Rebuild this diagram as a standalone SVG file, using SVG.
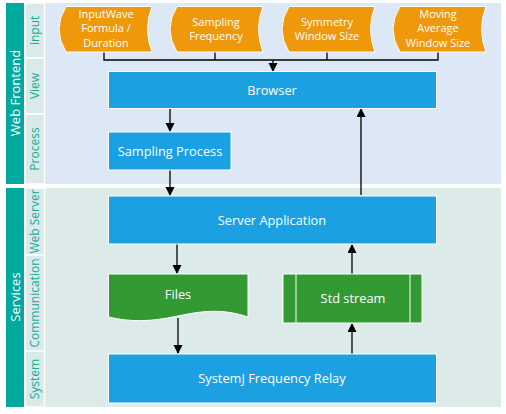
<svg xmlns="http://www.w3.org/2000/svg" width="506" height="414" viewBox="0 0 506 414">
<defs>
<style>
.t{font-family:"Open Sans","Noto Sans",sans-serif;fill:#fff;text-anchor:middle}
.m{font-size:12.8px}
.lane{font-family:"Open Sans","Noto Sans",sans-serif;fill:#17A89C;font-size:12px;text-anchor:middle}
.pool{font-family:"Open Sans","Noto Sans",sans-serif;fill:#fff;font-size:13px;text-anchor:middle}
.blue{fill:#1BA1E2;stroke:#fff;stroke-width:1}
.org{fill:#F0980C;stroke:#fff;stroke-width:1}
.grn{fill:#339933;stroke:#fff;stroke-width:1}
.c{stroke:#000;stroke-width:1.3;fill:none}
.lab{fill:#DAEAE8;stroke:#fff;stroke-width:1.5}
</style>
<marker id="ah" markerWidth="10" markerHeight="10" refX="8" refY="4.5" orient="auto" markerUnits="userSpaceOnUse">
<path d="M0,0 L9,4.5 L0,9 z" fill="#000"/>
</marker>
</defs>
<rect width="506" height="414" fill="#fff"/>
<g id="pool-web">
<rect x="45" y="3" width="456" height="181" fill="#DCE8F5"/>
<rect x="6" y="3" width="18" height="181" fill="#00A99D"/>
<text class="pool" transform="translate(19.5,93) rotate(-90)">Web Frontend</text>
<rect class="lab" x="25" y="3" width="19.5" height="55"/>
<rect class="lab" x="25" y="58" width="19.5" height="56"/>
<rect class="lab" x="25" y="114" width="19.5" height="70"/>
<text class="lane" transform="translate(39,30.5) rotate(-90)">Input</text>
<text class="lane" transform="translate(39,86) rotate(-90)">View</text>
<text class="lane" transform="translate(39,149) rotate(-90)">Process</text>
</g>
<g id="pool-services">
<rect x="45" y="188" width="456" height="219" fill="#DCEAEA"/>
<rect x="6" y="188" width="18" height="219" fill="#00A99D"/>
<text class="pool" transform="translate(19.5,297) rotate(-90)">Services</text>
<rect class="lab" x="25" y="188" width="19.5" height="67"/>
<rect class="lab" x="25" y="255" width="19.5" height="96"/>
<rect class="lab" x="25" y="351" width="19.5" height="56"/>
<text class="lane" transform="translate(39,221.5) rotate(-90)">Web Server</text>
<text class="lane" transform="translate(39,303) rotate(-90)">Communication</text>
<text class="lane" transform="translate(39,379) rotate(-90)">System</text>
</g>
<g id="connectors">
<path class="c" d="M104,52 V60 H438 V52 M215,52 V60 M327,52 V60"/>
<path class="c" d="M273,60 V71" marker-end="url(#ah)"/>
<path class="c" d="M170,108 V131" marker-end="url(#ah)"/>
<path class="c" d="M170,170 V195" marker-end="url(#ah)"/>
<path class="c" d="M361,195 V109" marker-end="url(#ah)"/>
<path class="c" d="M177,244 V273" marker-end="url(#ah)"/>
<path class="c" d="M178,318 V353" marker-end="url(#ah)"/>
<path class="c" d="M352,274 V245" marker-end="url(#ah)"/>
<path class="c" d="M352,354 V324" marker-end="url(#ah)"/>
</g>
<g id="n-input1">
<path class="org" d="M66,6.5 H152 Q143,29 152,52 H66 Q52,29 66,6.5 z"/>
<text class="t" font-size="11"><tspan x="106" y="18">InputWave</tspan><tspan x="106" y="32">Formula /</tspan><tspan x="106" y="47">Duration</tspan></text>
</g>
<g id="n-input2">
<path class="org" d="M177,6.5 H263 Q254,29 263,52 H177 Q163,29 177,6.5 z"/>
<text class="t" font-size="11"><tspan x="216" y="26">Sampling</tspan><tspan x="216" y="40">Frequency</tspan></text>
</g>
<g id="n-input3">
<path class="org" d="M289,6.5 H375 Q366,29 375,52 H289 Q275,29 289,6.5 z"/>
<text class="t" font-size="11"><tspan x="327" y="26">Symmetry</tspan><tspan x="327" y="40">Window Size</tspan></text>
</g>
<g id="n-input4">
<path class="org" d="M400,6.5 H486 Q477,29 486,52 H400 Q386,29 400,6.5 z"/>
<text class="t" font-size="11"><tspan x="438" y="18">Moving</tspan><tspan x="438" y="32">Average</tspan><tspan x="438" y="47">Window Size</tspan></text>
</g>
<g id="n-browser">
<rect class="blue" x="108.5" y="71.5" width="328" height="37"/>
<text class="t m" x="272" y="94.5">Browser</text>
</g>
<g id="n-sampling">
<rect class="blue" x="108.5" y="132" width="122.5" height="38"/>
<text class="t m" x="170" y="155.5">Sampling Process</text>
</g>
<g id="n-server">
<rect class="blue" x="108.5" y="196" width="328" height="48"/>
<text class="t m" x="272" y="224.5">Server Application</text>
</g>
<g id="n-files">
<path class="grn" d="M108.5,274 H248 V317 C225,309 205,310 178,316 C150,322 130,322 108.5,317 z"/>
<text class="t m" x="178" y="298.5">Files</text>
</g>
<g id="n-stdstream">
<rect class="grn" x="283" y="274" width="139" height="49"/>
<path d="M296,274 V323 M410,274 V323" stroke="#fff" stroke-width="1" fill="none"/>
<text class="t m" x="353" y="303">Std stream</text>
</g>
<g id="n-systemj">
<rect class="blue" x="108.5" y="354" width="328" height="49"/>
<text class="t m" x="272" y="383">SystemJ Frequency Relay</text>
</g>
</svg>
